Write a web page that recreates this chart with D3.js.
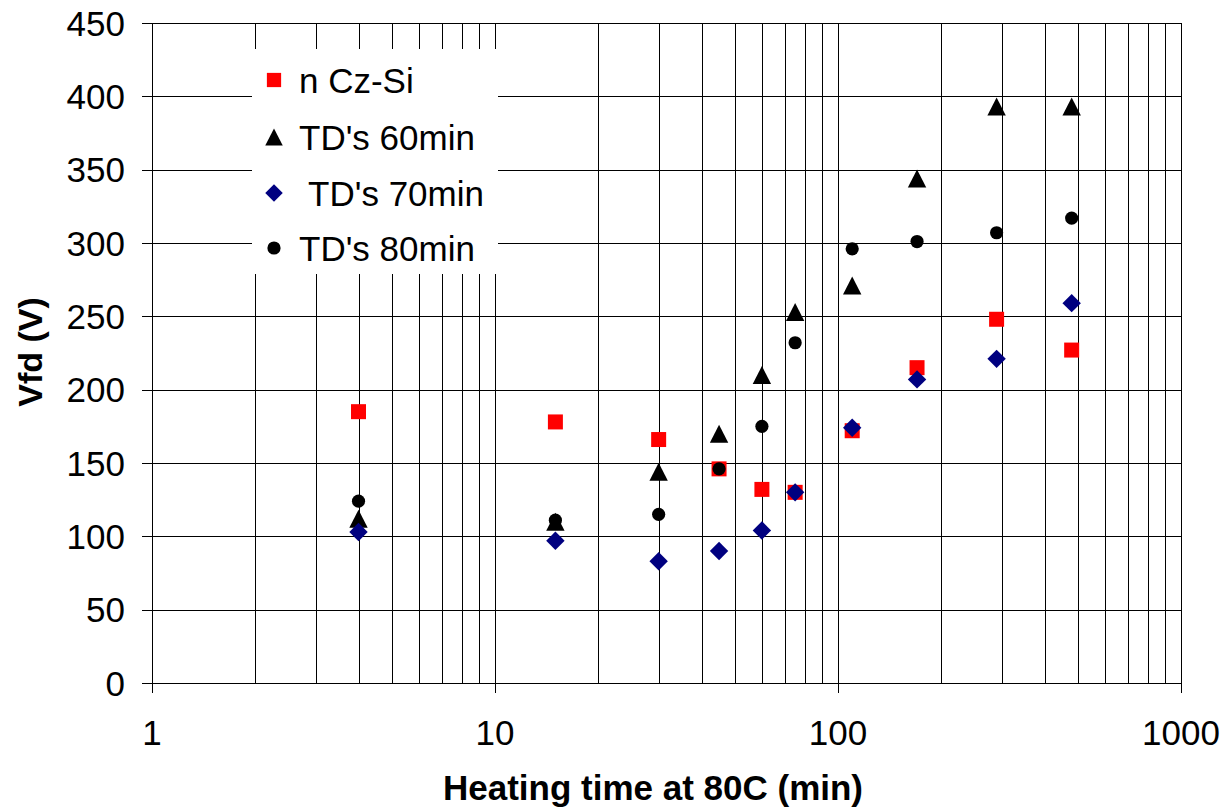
<!DOCTYPE html>
<html>
<head>
<meta charset="utf-8">
<script src="https://cdn.jsdelivr.net/npm/d3@7"></script>
<style>
  body { margin: 0; background: #fff; }
  text { font-family: "Liberation Sans", Arial, sans-serif; fill: #000; }
</style>
</head>
<body>
<div id="chart"></div>
<script>
// heating time (min) and full depletion voltage (V) per sample
const timesMin = [4, 15, 30, 45, 60, 75, 110, 170, 290, 480];
const nCzSi = [185, 178, 166, 146, 132, 130, 172, 215, 248, 227];
const td60 = [112, 110, 144, 170, 210, 253, 271, 344, 393, 393];
const td70 = [103, 97, 83, 90, 104, 130, 174, 207, 221, 259];
const td80 = [124, 111, 115, 146, 175, 232, 296, 301, 307, 317];
const seriesNames = ["n Cz-Si", "TD's 60min", " TD's 70min", "TD's 80min"];
const yTicks = [0, 50, 100, 150, 200, 250, 300, 350, 400, 450];
const xTicks = [1, 10, 100, 1000];

const width = 1222, height = 809;
const svg = d3.select("#chart").append("svg")
    .attr("width", width)
    .attr("height", height);

const x = d3.scaleLog().domain([1, 1000]).range([152, 1181]);
const y = d3.scaleLinear().domain([0, 450]).range([683, 23]);

// marker shapes, centred on the point
const markers = {
    square: "M-7.5,-7.5H7.5V7.5H-7.5Z",
    triangle: "M0,-9L9.2,9H-9.2Z",
    diamond: "M0,-9.2L9.2,0L0,9.2L-9.2,0Z",
    circle: d3.symbol(d3.symbolCircle, Math.PI * 6.6 * 6.6)()
};
const series = [
    { name: seriesNames[0], values: nCzSi, shape: "square", color: "#ff0000" },
    { name: seriesNames[1], values: td60, shape: "triangle", color: "#000000" },
    { name: seriesNames[2], values: td70, shape: "diamond", color: "#000080" },
    { name: seriesNames[3], values: td80, shape: "circle", color: "#000000" }
];

// grid
const grid = svg.append("g").attr("stroke", "#000").attr("stroke-width", 1).attr("shape-rendering", "crispEdges");
grid.selectAll("line.v")
    .data(x.ticks())
    .join("line")
    .attr("class", "v")
    .attr("x1", d => Math.round(x(d)) + 0.5)
    .attr("x2", d => Math.round(x(d)) + 0.5)
    .attr("y1", y(450))
    .attr("y2", d => xTicks.includes(d) ? y(0) + 10 : y(0));
grid.selectAll("line.h")
    .data(yTicks)
    .join("line")
    .attr("class", "h")
    .attr("x1", x(1) - 10)
    .attr("x2", x(1000))
    .attr("y1", d => Math.round(y(d)) + 0.5)
    .attr("y2", d => Math.round(y(d)) + 0.5);

// tick labels
svg.append("g").selectAll("text")
    .data(yTicks)
    .join("text")
    .attr("x", 125)
    .attr("y", d => y(d))
    .attr("dy", "0.36em")
    .attr("text-anchor", "end")
    .attr("font-size", "35px")
    .text(d => d);
svg.append("g").selectAll("text")
    .data(xTicks)
    .join("text")
    .attr("x", d => x(d))
    .attr("y", 745)
    .attr("text-anchor", "middle")
    .attr("font-size", "35px")
    .text(d => d);

// axis titles
svg.append("text")
    .attr("x", 653)
    .attr("y", 800)
    .attr("text-anchor", "middle")
    .attr("font-size", "35px")
    .attr("font-weight", "bold")
    .text("Heating time at 80C (min)");
svg.append("text")
    .attr("transform", "translate(42,352) rotate(-90)")
    .attr("text-anchor", "middle")
    .attr("font-size", "34px")
    .attr("font-weight", "bold")
    .text("Vfd (V)");

// legend box (white, no border) covering the grid
const legend = svg.append("g");
legend.append("rect")
    .attr("x", 252).attr("y", 49)
    .attr("width", 246).attr("height", 225)
    .attr("fill", "#fff");

// points
series.forEach(s => {
    svg.append("g").selectAll("path")
        .data(timesMin.map((t, i) => [t, s.values[i]]))
        .join("path")
        .attr("d", markers[s.shape])
        .attr("transform", d => `translate(${x(d[0])},${y(d[1])})`)
        .attr("fill", s.color);
});

const legendRowY = [80, 137, 193, 248];
series.forEach((s, i) => {
    const row = legend.append("g").attr("transform", `translate(274, ${legendRowY[i]})`);
    row.append("path")
        .attr("d", markers[s.shape])
        .attr("transform", s.shape === "circle" ? "scale(1)" : "scale(0.95)")
        .attr("fill", s.color);
    row.append("text")
        .attr("x", 25)
        .attr("dy", "0.36em")
        .attr("font-size", "35px")
        .style("white-space", "pre")
        .text(s.name);
});
</script>
</body>
</html>
